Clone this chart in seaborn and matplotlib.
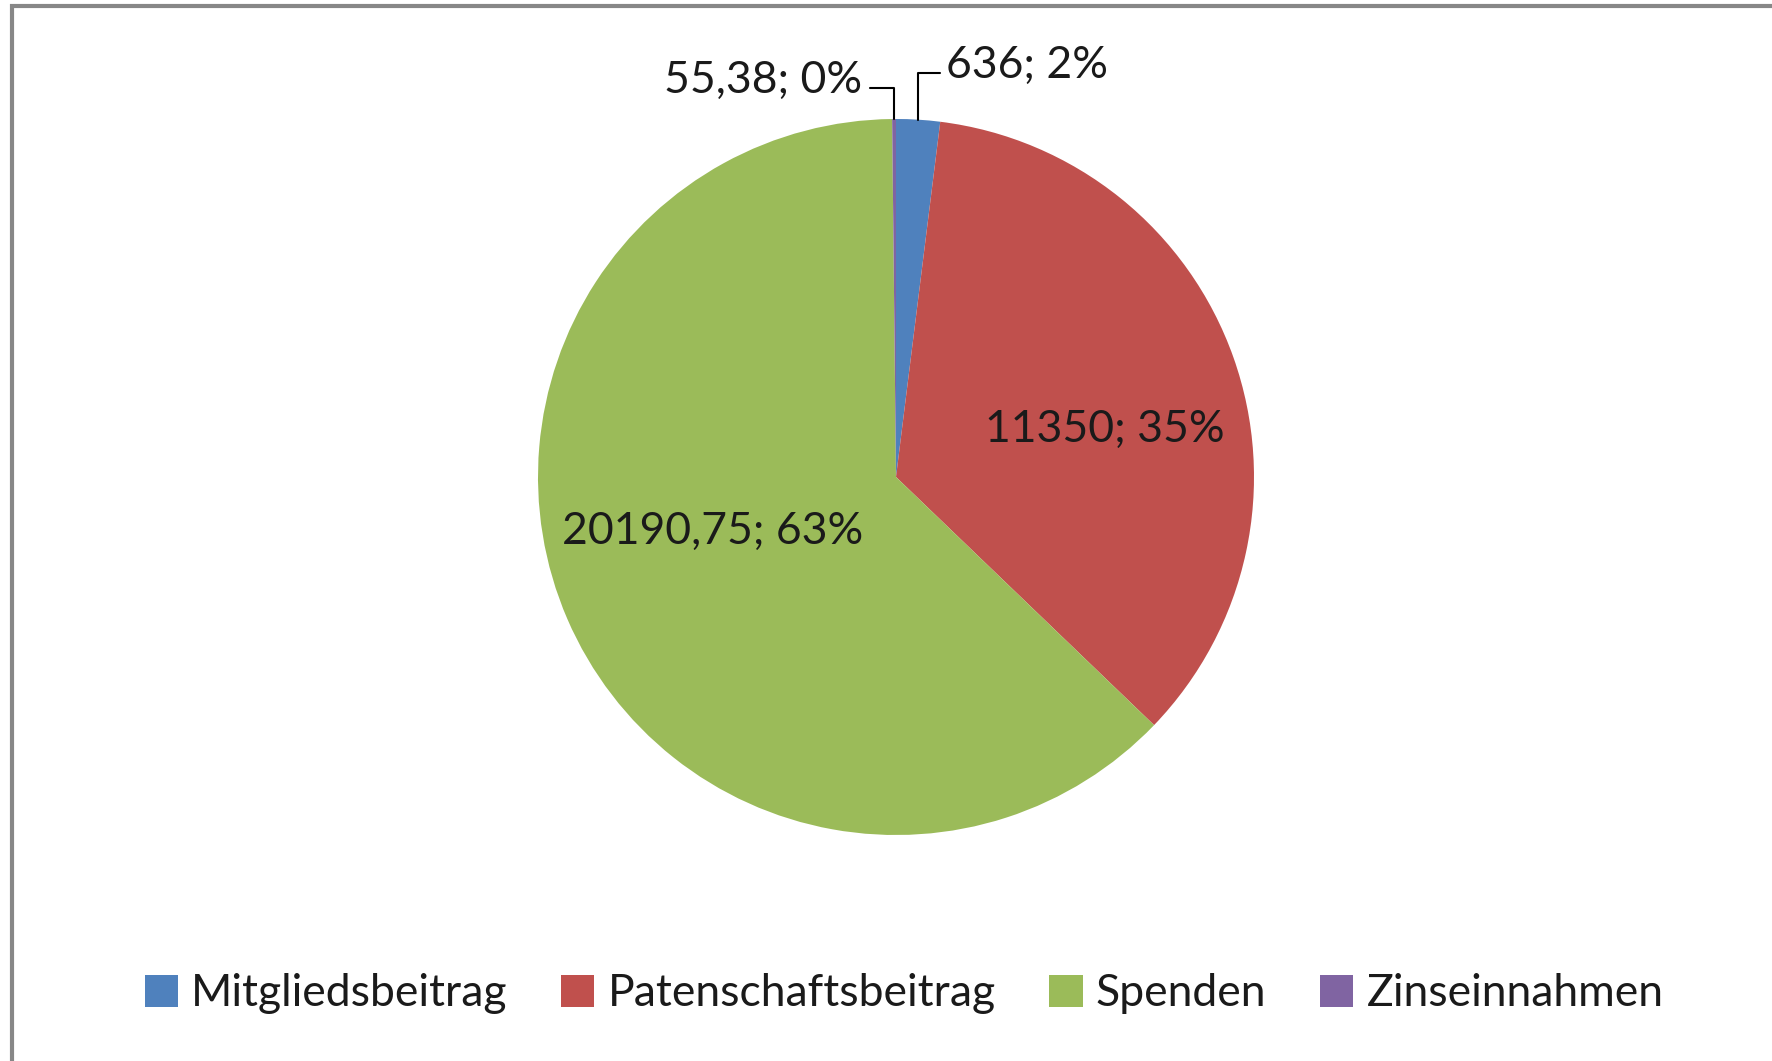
import numpy as np
import matplotlib

matplotlib.use('Agg')
import matplotlib.pyplot as plt
import seaborn as sns
from matplotlib.patches import Rectangle, Patch

sns.set_style('white')
plt.rcParams['font.family'] = ['Lato', 'DejaVu Sans']

categories = ['Mitgliedsbeitrag', 'Patenschaftsbeitrag', 'Spenden', 'Zinseinnahmen']
values = [636, 11350, 20190.75, 55.38]
value_labels = ['636', '11350', '20190,75', '55,38']
colors = ['#4F81BD', '#C0504D', '#9BBB59', '#8064A2']

W, H = 1772, 1061
fig = plt.figure(figsize=(W / 100, H / 100), dpi=100)

# pie placed so centre/radius match the original
cx, cy, r = 896, 477, 358
ax = fig.add_axes([(cx - r) / W, (H - cy - r) / H, 2 * r / W, 2 * r / H])
wedges, _ = ax.pie(values, colors=colors, startangle=90, counterclock=False,
                   radius=1, wedgeprops=dict(linewidth=0))
ax.set_xlim(-1, 1)
ax.set_ylim(-1, 1)
ax.set_aspect('equal')
ax.axis('off')

total = sum(values)
pct = [f'{round(v / total * 100)}%' for v in values]
labels = [f'{lab}; {p}' for lab, p in zip(value_labels, pct)]

fs = 32
tcol = '#1a1a1a'

def px(x, y):
    # pixel coords -> pie data coords
    return (x - cx) / r, (cy - y) / r

# inner labels
ax.text(*px(1105, 429), labels[1], ha='center', va='center', fontsize=fs, color=tcol)
ax.text(*px(713, 531), labels[2], ha='center', va='center', fontsize=fs, color=tcol)

# outer labels with leader lines
def mid_angle(w):
    return np.deg2rad((w.theta1 + w.theta2) / 2)

a = mid_angle(wedges[0])
x0, y0 = np.cos(a), np.sin(a)
yk = px(0, 73)[1]
xe = px(940, 0)[0]
ax.plot([x0, x0, xe], [y0, yk, yk], color='black', lw=1.5, clip_on=False)
ax.text(*px(946, 65), labels[0], ha='left', va='center', fontsize=fs, color=tcol)

a = mid_angle(wedges[3])
x0, y0 = np.cos(a), np.sin(a)
yk = px(0, 88)[1]
xe = px(870, 0)[0]
ax.plot([x0, x0, xe], [y0, yk, yk], color='black', lw=1.5, clip_on=False)
ax.text(*px(862, 80), labels[3], ha='right', va='center', fontsize=fs, color=tcol)

handles = [Patch(facecolor=c, edgecolor='none') for c in colors]
fig.legend(handles, categories, loc='center', bbox_to_anchor=(904 / W, 1 - 994 / H),
           ncol=4, frameon=False, fontsize=fs, handlelength=0.75, handleheight=0.75,
           handletextpad=0.3, columnspacing=1.2, labelcolor=tcol)

# chart frame (cut off at right and bottom)
fig.patches.append(Rectangle((12 / W, -0.1), 1.2, 1.1 - 6 / H, transform=fig.transFigure,
                             fill=False, edgecolor='#878787', linewidth=3))

fig.savefig('out.png', dpi=100)
